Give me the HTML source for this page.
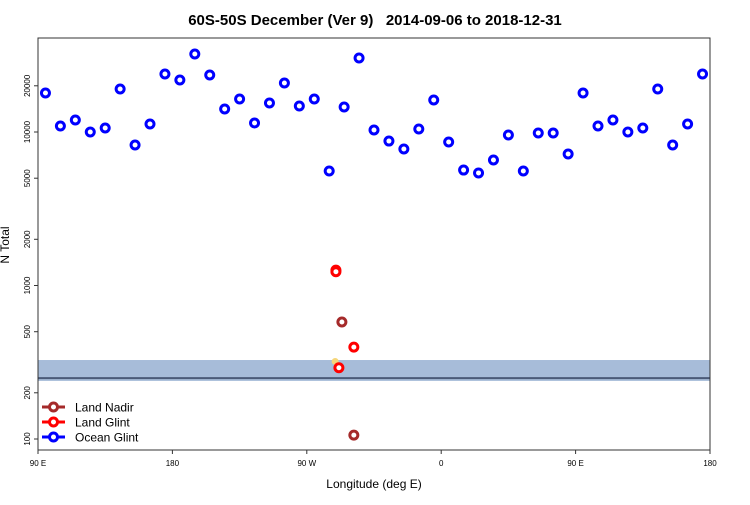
<!DOCTYPE html>
<html><head><meta charset="utf-8"><style>
body{margin:0;background:#fff;font-family:"Liberation Sans",sans-serif}
</style></head><body>
<svg id="c" width="750" height="500" xmlns="http://www.w3.org/2000/svg" font-family="Liberation Sans, sans-serif"></svg>
<script>
const oceanLon=[95,105,115,125,135,145,155,165,175,185,195,205,215,225,235,245,255,265,275,285,295,305,315,325,335,345,355,365,375,385,395,405,415,425,435,445,455,465,475,485,495,505,515,525,535];
const oceanVal=[17950,10940,11970,10000,10620,19050,8230,11270,23870,21820,32200,23500,14120,16400,11450,15450,20850,14770,16400,5570,14550,30340,10300,8730,7750,10460,16160,8610,5650,5410,6570,9560,5570,9850,9850,7190,17950,10940,11970,10000,10620,19050,8230,11270,23870];
const glintLon=[289.5,289.5,301.5,291.5];
const glintVal=[1260,1230,397,291];
const nadirLon=[293.5,301.5];
const nadirVal=[578,106];
const xTicks=[90,180,270,360,450,540];
const xTickLabels=["90 E","180","90 W","0","90 E","180"];
const yTicks=[100,200,500,1000,2000,5000,10000,20000];
const bandLow=239, bandHigh=327, bandLine=249;

const svg=document.getElementById('c');
const NS="http://www.w3.org/2000/svg";
const L=38,R=710,T=38,B=450;
const X=v=>L+(v-90)/450*(R-L);
const Y=v=>132-(Math.log10(v)-4)*153.5;
function mk(t,a,p){const e=document.createElementNS(NS,t);for(const k in a)e.setAttribute(k,a[k]);(p||svg).appendChild(e);return e;}

const band=mk('rect',{x:L,y:Y(bandHigh),width:R-L,height:Y(bandLow)-Y(bandHigh),fill:'#a7bcd9'});


const bl=mk('line',{x1:L,x2:R,y1:Y(bandLine),y2:Y(bandLine),stroke:'#4a5a78','stroke-width':2});


const ys=mk('circle',{cx:X(289),cy:Y(320),r:3.5,fill:'#f5d67a'});



const frame=mk('rect',{x:L,y:T,width:R-L,height:B-T,fill:'none',stroke:'#333','stroke-width':1});



xTicks.forEach((v,i)=>{
  const l=mk('line',{x1:X(v),x2:X(v),y1:B,y2:B+4,stroke:'#333'});
  
  
  const t=mk('text',{x:X(v),y:B+16,'font-size':8,'text-anchor':'middle'});
  t.textContent=xTickLabels[i];
  
  
});
yTicks.forEach(v=>{
  const y=Y(v);
  const l=mk('line',{x1:L-4,x2:L,y1:y,y2:y,stroke:'#333'});
  
  
  const t=mk('text',{x:0,y:0,'font-size':8,'text-anchor':'middle',transform:`translate(${L-8},${y}) rotate(-90)`});
  t.textContent=v;
  
  
});

function pts(lons,vals,col,name){
  lons.forEach((lo,i)=>{
    const c=mk('circle',{cx:X(lo),cy:Y(vals[i]),r:4,fill:'#fff',stroke:col,'stroke-width':3});
    
    
  });
}
pts(oceanLon,oceanVal,'#0000ff','ocean-glint-point');
pts(nadirLon,nadirVal,'#a52a2a','land-nadir-point');
pts(glintLon,glintVal,'#ff0000','land-glint-point');

const leg=[['Land Nadir','#a52a2a'],['Land Glint','#ff0000'],['Ocean Glint','#0000ff']];
leg.forEach((d,i)=>{
  const y=407+i*15;
  const g=mk('g',{});
  
  
  mk('line',{x1:42,x2:65,y1:y,y2:y,stroke:d[1],'stroke-width':3},g);
  mk('circle',{cx:53.5,cy:y,r:4,fill:'#fff',stroke:d[1],'stroke-width':3},g);
  const t=mk('text',{x:75,y:y+4.5,'font-size':12},g);
  t.textContent=d[0];
});

const title=mk('text',{x:375,y:25,'font-size':15,'font-weight':'bold','text-anchor':'middle'});
title.textContent='60S-50S December (Ver 9)   2014-09-06 to 2018-12-31';
title.setAttribute('xml:space','preserve');
title.style.whiteSpace='pre';


const xl=mk('text',{x:374,y:488,'font-size':12,'text-anchor':'middle'});
xl.textContent='Longitude (deg E)';


const yl=mk('text',{x:0,y:0,'font-size':12,'text-anchor':'middle',transform:'translate(9,245) rotate(-90)'});
yl.textContent='N Total';


</script>
</body></html>
